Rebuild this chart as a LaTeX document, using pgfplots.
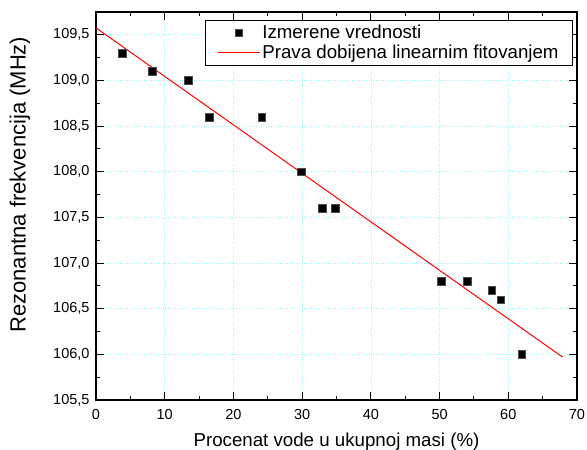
\documentclass[border=0pt]{standalone}
\usepackage{fontspec}
\setmainfont{Liberation Sans}
\usepackage{pgfplots}
\pgfplotsset{compat=1.18}
\definecolor{gridc}{RGB}{150,250,250}
\begin{document}
\begin{tikzpicture}
\path[use as bounding box] (-96bp,-50bp) rectangle (491bp,400bp);
\begin{axis}[
  scale only axis, width=481bp, height=388bp,
  at={(0,0)}, anchor=south west,
  xmin=0, xmax=70, ymin=105.5, ymax=109.75,
  xtick={0,10,...,70}, ytick={105.5,106,...,109.5},
  minor x tick num=1, minor y tick num=1,
  tick align=inside, major tick length=8bp, minor tick length=4bp,
  axis line style={line width=1.2bp},
  every tick/.style={black, line width=0.9bp},
  grid=major, major grid style={gridc, dotted, line width=0.7bp},
  /pgf/number format/assume math mode=true,
  tick label style={font=\fontsize{14.5bp}{17bp}\selectfont},
  yticklabel style={xshift=-3bp, /pgf/number format/fixed, /pgf/number format/fixed zerofill, /pgf/number format/precision=1, /pgf/number format/use comma},
  xticklabel style={yshift=-6bp, /pgf/number format/fixed, /pgf/number format/precision=0},
  xlabel={Procenat vode u ukupnoj masi (\%)},
  ylabel={Rezonantna frekvencija (MHz)},
  xlabel style={at={(axis description cs:0.5,-0.108)}, anchor=center, font=\fontsize{18.7bp}{22bp}\selectfont},
  ylabel style={at={(axis description cs:-0.158,0.555)}, anchor=center, font=\fontsize{22bp}{26bp}\selectfont},
  legend style={at={(0.9917,0.9794)}, anchor=north east, line width=0.8bp,
    inner xsep=12bp, inner ysep=3bp,
    nodes={inner sep=2bp, font=\fontsize{18.7bp}{21bp}\selectfont}, row sep=1bp},
  legend cell align=left,
  legend image code/.code={\draw[mark repeat=2,mark phase=2,#1] plot coordinates {(0bp,0bp)(21bp,0bp)(42bp,0bp)};},
]
\addplot[only marks, mark=square*, mark size=3.8bp, black, mark options={draw=black!70, fill=black}]
coordinates {
(3.8,109.3) (8.2,109.1) (13.4,109.0) (16.45,108.6) (24.1,108.6) (29.9,108.0)
(32.9,107.6) (34.8,107.6) (50.2,106.8) (54.05,106.8) (57.6,106.7) (58.9,106.6) (61.95,106.0)
};
\addlegendentry{Izmerene vrednosti}
\addplot[red, line width=1bp, no marks] coordinates {(0,109.576) (67.9,105.97)};
\addlegendentry{Prava dobijena linearnim fitovanjem}
\end{axis}
\end{tikzpicture}
\end{document}
